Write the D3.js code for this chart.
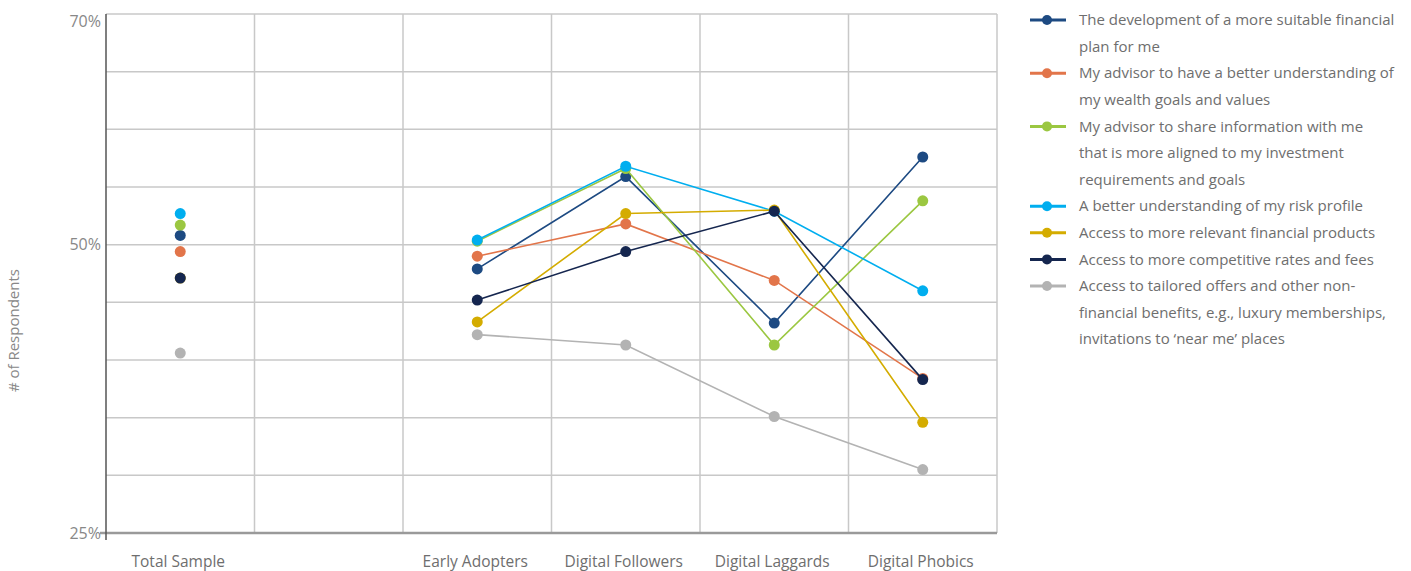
<!DOCTYPE html>
<html>
<head>
<meta charset="utf-8">
<script src="https://cdn.jsdelivr.net/npm/d3@7"></script>
<style>
  body { margin: 0; background: #fff; font-family: "Open Sans", Lato, sans-serif; }
  .grid line { stroke: #c8c8c8; stroke-width: 1.5; }
</style>
</head>
<body>
<svg id="chart" width="1411" height="571"></svg>
<script>
var categories = ["Total Sample", "", "Early Adopters", "Digital Followers", "Digital Laggards", "Digital Phobics"];

var seriesNames = [
  "The development of a more suitable financial plan for me",
  "My advisor to have a better understanding of my wealth goals and values",
  "My advisor to share information with me that is more aligned to my investment requirements and goals",
  "A better understanding of my risk profile",
  "Access to more relevant financial products",
  "Access to more competitive rates and fees",
  "Access to tailored offers and other non-financial benefits, e.g., luxury memberships, invitations to \u2018near me\u2019 places"
];

// legend text, wrapped as in the original
var legendLines = [
  ["The development of a more suitable financial", "plan for me"],
  ["My advisor to have a better understanding of", "my wealth goals and values"],
  ["My advisor to share information with me", "that is more aligned to my investment", "requirements and goals"],
  ["A better understanding of my risk profile"],
  ["Access to more relevant financial products"],
  ["Access to more competitive rates and fees"],
  ["Access to tailored offers and other non-", "financial benefits, e.g., luxury memberships,", "invitations to \u2018near me\u2019 places"]
];

var colors = ["#1d4a82", "#e2754a", "#9bc741", "#00aeef", "#d4ac00", "#15264f", "#b3b3b3"];

// values in %, one per category (null = empty column)
var planValues      = [50.8, null, 47.9, 55.9, 43.2, 57.6];
var understandValues= [49.4, null, 49.0, 51.8, 46.9, 38.4];
var shareValues     = [51.7, null, 50.3, 56.6, 41.3, 53.8];
var riskValues      = [52.7, null, 50.4, 56.8, 52.9, 46.0];
var productValues   = [47.1, null, 43.3, 52.7, 53.0, 34.6];
var ratesValues     = [47.1, null, 45.2, 49.4, 52.9, 38.3];
var offersValues    = [40.6, null, 42.2, 41.3, 35.1, 30.5];

var allValues = [planValues, understandValues, shareValues, riskValues, productValues, ratesValues, offersValues];

var yTicks = [25, 30, 35, 40, 45, 50, 55, 60, 65, 70];
var yLabels = [25, 50, 70];

var margin = {top: 14, right: 414, bottom: 38, left: 106};
var width = 1411, height = 571;
var w = width - margin.left - margin.right;
var h = height - margin.top - margin.bottom;

var svg = d3.select("#chart");
var g = svg.append("g").attr("transform", "translate(" + margin.left + "," + margin.top + ")");

var x = d3.scaleBand().domain(d3.range(categories.length)).range([0, w]);
var y = d3.scaleLinear().domain([25, 70]).range([h, 0]);

// horizontal grid
g.append("g").attr("class", "grid")
  .selectAll("line").data(yTicks.filter(function(d) { return d > 25; }))
  .enter().append("line")
  .attr("x1", 0).attr("x2", w)
  .attr("y1", function(d) { return y(d); })
  .attr("y2", function(d) { return y(d); });

// vertical grid at band edges
g.append("g").attr("class", "grid")
  .selectAll("line").data(d3.range(1, categories.length + 1))
  .enter().append("line")
  .attr("x1", function(d) { return d * x.step(); })
  .attr("x2", function(d) { return d * x.step(); })
  .attr("y1", 0).attr("y2", h);

// bottom axis
g.append("line")
  .attr("x1", -6).attr("x2", w)
  .attr("y1", h).attr("y2", h)
  .attr("stroke", "#9a9a9a").attr("stroke-width", 2.5);

// left axis
g.append("line")
  .attr("x1", 0).attr("x2", 0)
  .attr("y1", 0).attr("y2", h + 7)
  .attr("stroke", "#555").attr("stroke-width", 1.5);

// y labels
g.selectAll(".ylab").data(yLabels).enter().append("text")
  .attr("class", "ylab")
  .attr("x", -5)
  .attr("y", function(d) { return y(d); })
  .attr("dy", function(d) { return d === 70 ? "0.8em" : "0.35em"; })
  .attr("text-anchor", "end")
  .attr("fill", "#888")
  .style("font-size", "16px")
  .text(function(d) { return d + "%"; });

// x labels
g.selectAll(".xlab").data(categories).enter().append("text")
  .attr("class", "xlab")
  .attr("x", function(d, i) { return x(i) + x.bandwidth() / 2 - 2; })
  .attr("y", h + 34)
  .attr("text-anchor", "middle")
  .attr("fill", "#6e6e6e")
  .style("font-size", "15.5px")
  .text(function(d) { return d; });

// y title
svg.append("text")
  .attr("transform", "translate(19," + (margin.top + h * 0.61) + ") rotate(-90)")
  .attr("text-anchor", "middle")
  .attr("fill", "#888")
  .style("font-size", "15px")
  .text("# of Respondents");

var line = d3.line()
  .defined(function(d) { return d !== null; })
  .x(function(d, i) { return x(i) + x.bandwidth() / 2; })
  .y(function(d) { return y(d); });

allValues.forEach(function(vals, s) {
  var sg = g.append("g");
  sg.append("path")
    .datum(vals.map(function(v, i) { return i === 0 ? null : v; }))
    .attr("d", line)
    .attr("fill", "none")
    .attr("stroke", colors[s])
    .attr("stroke-width", 1.6);
  sg.selectAll("circle")
    .data(vals.map(function(v, i) { return {v: v, i: i}; }).filter(function(d) { return d.v !== null; }))
    .enter().append("circle")
    .attr("cx", function(d) { return x(d.i) + x.bandwidth() / 2; })
    .attr("cy", function(d) { return y(d.v); })
    .attr("r", 5.5)
    .attr("fill", colors[s]);
});

// legend
var legend = svg.append("g").attr("transform", "translate(1030,0)");
var rowH = 26.6;
var row = 0;
legendLines.forEach(function(lines, s) {
  var ly = 20 + row * rowH;
  legend.append("line")
    .attr("x1", 0).attr("x2", 36)
    .attr("y1", ly).attr("y2", ly)
    .attr("stroke", colors[s]).attr("stroke-width", 3);
  legend.append("circle")
    .attr("cx", 17).attr("cy", ly).attr("r", 5)
    .attr("fill", colors[s]);
  lines.forEach(function(t, k) {
    legend.append("text")
      .attr("x", 49)
      .attr("y", 20 + (row + k) * rowH)
      .attr("dy", "0.35em")
      .attr("fill", "#6e6e6e")
      .style("font-size", "15px")
      .text(t);
  });
  row += lines.length;
});
</script>
</body>
</html>
